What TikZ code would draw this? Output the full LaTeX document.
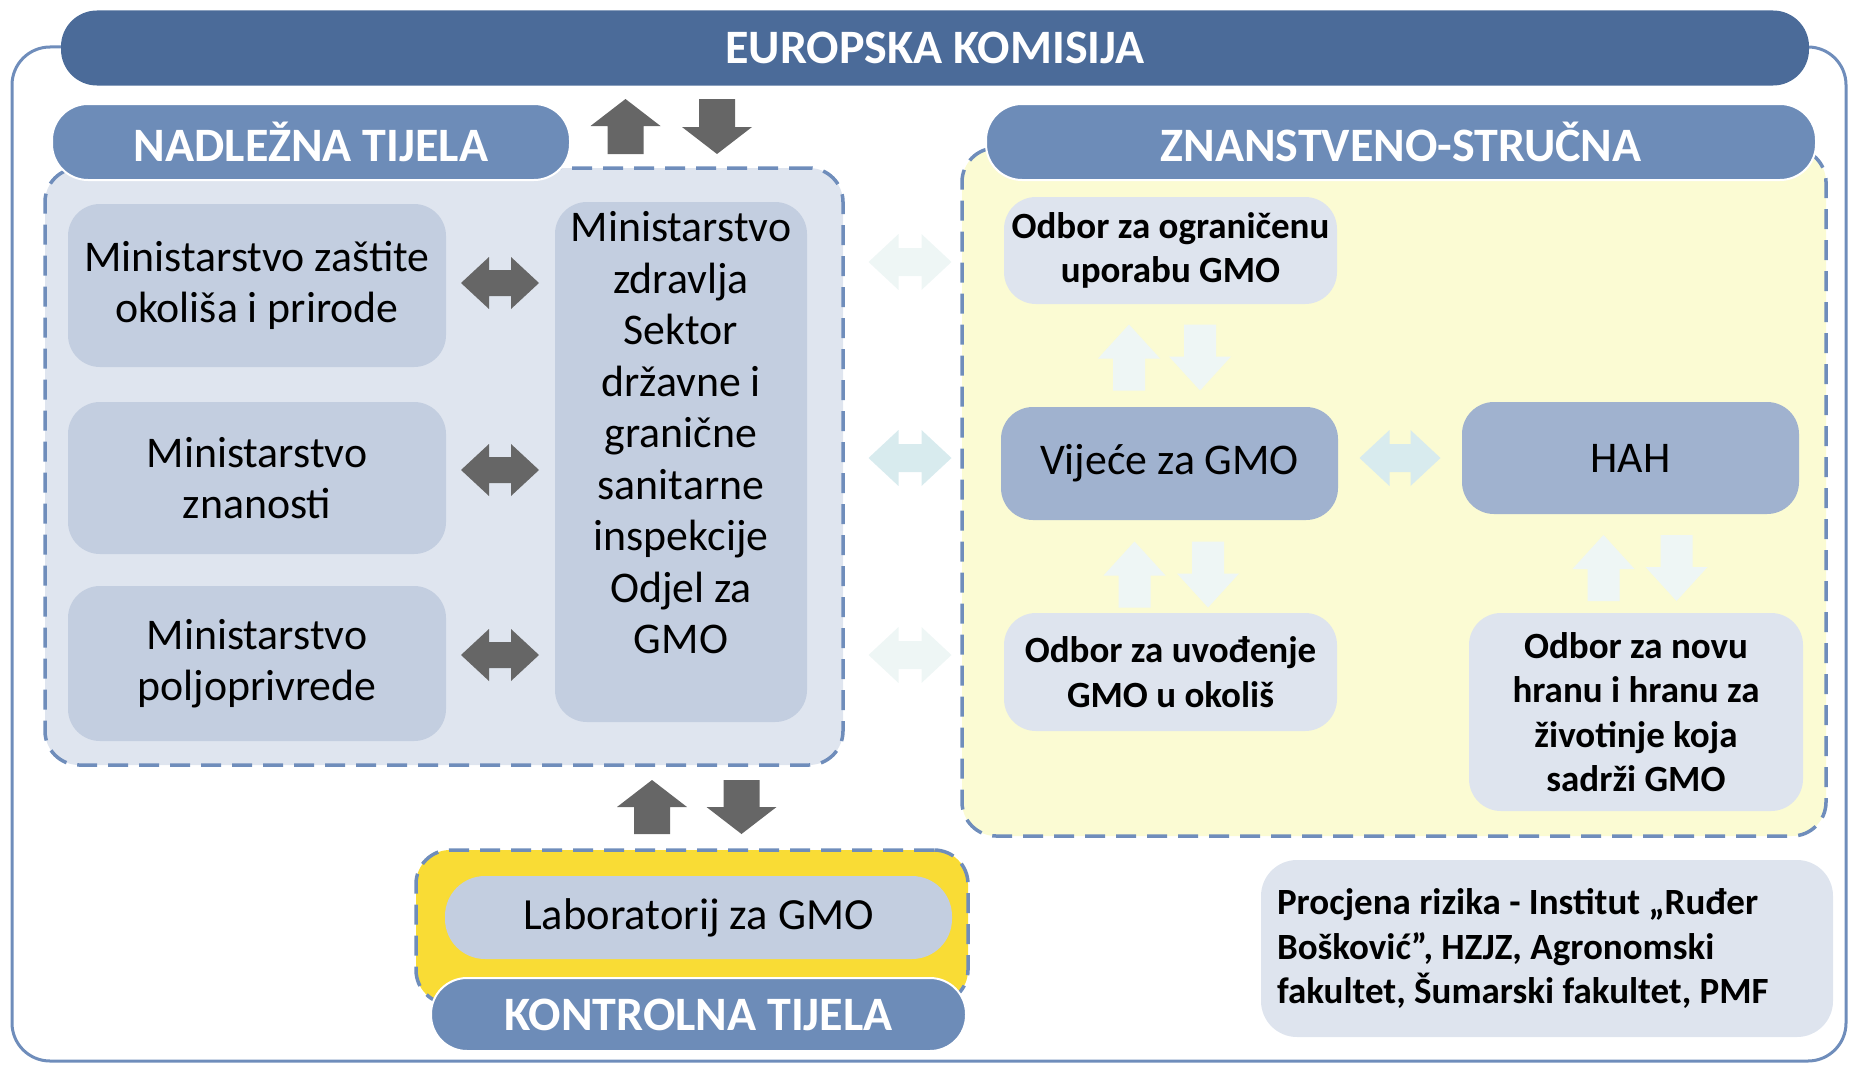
\documentclass[tikz,border=0pt]{standalone}
\usepackage{fontspec}
\setmainfont{Carlito}
\usetikzlibrary{calc}

\definecolor{ekblue}{HTML}{4B6B99}
\definecolor{tabblue}{HTML}{6D8CB8}
\definecolor{framecol}{HTML}{6F8DBB}
\definecolor{lcontfill}{HTML}{DFE5EF}
\definecolor{boxfill}{HTML}{C3CEE0}
\definecolor{lightbox}{HTML}{DEE4EE}
\definecolor{midbox}{HTML}{A0B2CF}
\definecolor{rcontfill}{HTML}{FBFBD3}
\definecolor{kyellow}{HTML}{F9DC35}
\definecolor{arrgray}{HTML}{666666}
\definecolor{arrpale}{HTML}{EEF6F5}
\definecolor{arrteal}{HTML}{D8EBEE}

\newcommand{\RegText}{\fontsize{43.8}{51.5}\selectfont}
\newcommand{\BoldText}{\fontsize{37}{44.5}\selectfont\bfseries}
\newcommand{\HeadText}{\fontsize{48}{52}\selectfont\bfseries}

\tikzset{
    pics/blockarr/.style n args={4}{code={
        \path[pic actions] ({#1/2},0) -- ({#1/2-#4},{#2/2}) -- ({#1/2-#4},{#3/2})
            -- ({-#1/2},{#3/2}) -- ({-#1/2},{-#3/2}) -- ({#1/2-#4},{-#3/2})
            -- ({#1/2-#4},{-#2/2}) -- cycle;
    }},
    pics/dblarr/.style n args={4}{code={
        \path[pic actions] ({#1/2},0) -- ({#1/2-#4},{#2/2}) -- ({#1/2-#4},{#3/2})
            -- ({-#1/2+#4},{#3/2}) -- ({-#1/2+#4},{#2/2}) -- ({-#1/2},0)
            -- ({-#1/2+#4},{-#2/2}) -- ({-#1/2+#4},{-#3/2}) -- ({#1/2-#4},{-#3/2})
            -- ({#1/2-#4},{-#2/2}) -- cycle;
    }},
}

\begin{document}
\begin{tikzpicture}[x=1pt, y=-1pt,
    every node/.style={inner sep=0pt, outer sep=0pt},
    frame/.style={draw=framecol, line width=3pt, rounded corners=38pt},
    bar/.style={fill=ekblue, rounded corners=36pt, text=white, font=\HeadText},
    tab/.style={fill=tabblue, draw=white, line width=2pt, rounded corners=36pt, text=white, font=\HeadText},
    cont/.style={draw=framecol, line width=3.5pt, dash pattern=on 20pt off 11pt, rounded corners=34pt},
    box/.style={fill=boxfill, rounded corners=32pt, align=center, font=\RegText},
    lbox/.style={fill=lightbox, rounded corners=32pt, align=center, font=\BoldText},
    mbox/.style={fill=midbox, rounded corners=32pt, align=center, font=\RegText},
    darkarr/.style={fill=arrgray},
    palearr/.style={fill=arrpale},
    tealarr/.style={fill=arrteal}]

    \useasboundingbox (0,0) rectangle (1852,1065);

    \draw[frame] (12,47) rectangle (1846,1061);
    \draw(935,48) node[bar, minimum width=1748pt, minimum height=75pt] (EK) {EUROPSKA KOMISIJA};

    % nadlezna tijela
    \draw(444,466.5) node[cont, fill=lcontfill, minimum width=798pt, minimum height=597pt] (LC) {};
    \draw(311,142) node[tab, minimum width=518pt, minimum height=76pt] (NT) {NADLEŽNA TIJELA};
    \draw(257,285.5) node[box, minimum width=378pt, minimum height=163pt] (MZO) {Ministarstvo zaštite\\okoliša i prirode};
    \draw(257,478) node[box, minimum width=378pt, minimum height=152pt] (MZN) {Ministarstvo\\znanosti};
    \draw(257,663.5) node[box, minimum width=378pt, minimum height=155pt] (MPO) {Ministarstvo\\poljoprivrede};
    \draw(681,462) node[box, minimum width=252pt, minimum height=520pt] (MZD) {};
    \draw(681,433) node[font=\RegText, align=center] (MZDtxt) {Ministarstvo\\zdravlja\\Sektor\\državne i\\granične\\sanitarne\\inspekcije\\Odjel za\\GMO};

    \pic[darkarr] at (500,283) {dblarr={78}{52}{26}{28}};
    \pic[darkarr] at (500,470) {dblarr={78}{52}{26}{28}};
    \pic[darkarr] at (500,655) {dblarr={78}{52}{26}{28}};
    \pic[darkarr, rotate=90] at (625.5,126.5) {blockarr={55}{70}{36}{27}};
    \pic[darkarr, rotate=-90] at (717,126.5) {blockarr={55}{70}{36}{27}};

    % znanstveno-strucna
    \draw(1394,492) node[cont, fill=rcontfill, minimum width=864pt, minimum height=688pt] (RC) {};
    \draw(1401,142) node[tab, minimum width=830pt, minimum height=76pt] (ZS) {ZNANSTVENO-STRUČNA};
    \draw(1170.5,250.5) node[lbox, minimum width=333pt, minimum height=107pt] (OGR) {Odbor za ograničenu\\uporabu GMO};
    \draw(1169.5,463.5) node[mbox, minimum width=337pt, minimum height=113pt] (VIJ) {Vijeće za GMO};
    \draw(1630.5,458) node[mbox, minimum width=337pt, minimum height=112pt] (HAH) {HAH};
    \draw(1170.5,672) node[lbox, minimum width=333pt, minimum height=118pt] (UVO) {Odbor za uvođenje\\GMO u okoliš};
    \draw(1636,712) node[lbox, minimum width=334pt, minimum height=198pt] (NOV) {Odbor za novu\\hranu i hranu za\\životinje koja\\sadrži GMO};

    \pic[palearr] at (910,262) {dblarr={83}{56}{28}{30}};
    \pic[tealarr] at (910,458) {dblarr={83}{56}{28}{30}};
    \pic[palearr] at (910,655) {dblarr={83}{56}{28}{30}};
    \pic[tealarr] at (1400,458) {dblarr={81}{56}{28}{30}};
    \pic[palearr, rotate=90] at (1129,357.5) {blockarr={66}{62}{32}{34}};
    \pic[palearr, rotate=-90] at (1200,357.5) {blockarr={66}{62}{32}{34}};
    \pic[palearr, rotate=90] at (1134.5,574.5) {blockarr={66}{62}{32}{34}};
    \pic[palearr, rotate=-90] at (1208,574.5) {blockarr={66}{62}{32}{34}};
    \pic[palearr, rotate=90] at (1603.5,568) {blockarr={66}{62}{32}{34}};
    \pic[palearr, rotate=-90] at (1676.5,568) {blockarr={66}{62}{32}{34}};

    % kontrolna tijela
    \pic[darkarr, rotate=90] at (652,807) {blockarr={54}{70}{36}{27}};
    \pic[darkarr, rotate=-90] at (741.5,807) {blockarr={54}{70}{36}{27}};
    \draw(692,927) node[cont, fill=kyellow, minimum width=552pt, minimum height=154pt] (KC) {};
    \draw(698.5,917.5) node[box, rounded corners=40pt, minimum width=507pt, minimum height=83pt, font=\fontsize{44.5}{50}\selectfont] (LAB) {Laboratorij za GMO};
    \draw(698.5,1014.5) node[tab, minimum width=535pt, minimum height=73pt] (KT) {KONTROLNA TIJELA};

    \draw(1547,948.5) node[lbox, align=flush left, text width=540pt, minimum height=177pt, inner xsep=16pt, rounded corners=36pt] (PR)
        {Procjena rizika - Institut „Ruđer\\Bošković”, HZJZ, Agronomski\\fakultet, Šumarski fakultet, PMF};

\end{tikzpicture}
\end{document}
